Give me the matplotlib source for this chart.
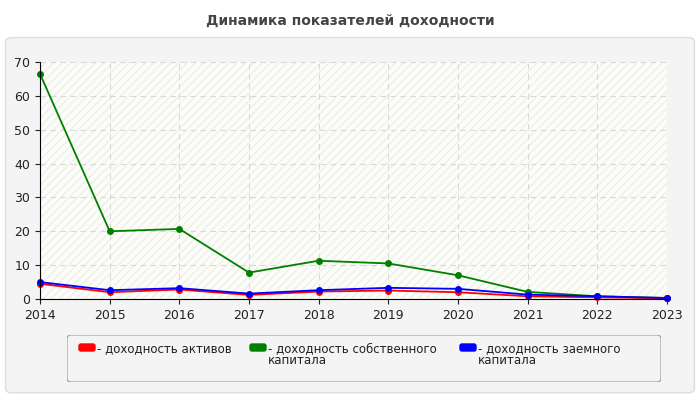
import matplotlib
matplotlib.use("Agg")
import matplotlib.pyplot as plt
from matplotlib.patches import FancyBboxPatch

years = [2014, 2015, 2016, 2017, 2018, 2019, 2020, 2021, 2022, 2023]
roa = [4.5, 2.0, 2.8, 1.2, 2.2, 2.5, 2.0, 0.8, 0.5, 0.2]
roe = [66.5, 20.0, 20.7, 7.8, 11.3, 10.5, 7.0, 2.1, 0.8, 0.3]
rod = [5.0, 2.6, 3.2, 1.6, 2.6, 3.3, 3.0, 1.3, 0.8, 0.3]
labels = ["- доходность активов", "- доходность собственного\nкапитала", "- доходность заемного\nкапитала"]
colors = ["#ff0000", "#008000", "#0000ff"]

fig = plt.figure(figsize=(7, 4), dpi=100)
fig.patch.set_facecolor("white")
bg = FancyBboxPatch((0.008, 0.018), 0.984, 0.888, boxstyle="round,pad=0,rounding_size=0.01",
                    transform=fig.transFigure, facecolor="#f4f4f4", edgecolor="#dddddd", lw=1, zorder=-10)
fig.patches.append(bg)
fig.text(0.5, 0.948, "Динамика показателей доходности", ha="center", va="center",
         fontsize=10, fontweight="bold", color="#444444")

ax = fig.add_axes([40/700, 1-299/400, 627/700, 237/400])
ax.set_facecolor("#fdfdf8")
ax.fill_between([2014, 2023], 0, 70, facecolor="none", edgecolor="#eeeeee", hatch="////", lw=0)
for vals, c in zip([roe, roa, rod], [colors[1], colors[0], colors[2]]):
    ax.plot(years, vals, color=c, lw=1.3, marker="o", ms=4, clip_on=False)
ax.set_xlim(2014, 2023)
ax.set_ylim(0, 70)
ax.set_xticks(years)
ax.set_yticks(range(0, 71, 10))
ax.grid(True, ls=(0, (5, 4)), color="#d8d8d8", lw=0.8)
for s in ["top", "right"]:
    ax.spines[s].set_visible(False)
ax.tick_params(labelsize=9, colors="#222222")

leg_ax = fig.add_axes([67/700, 1-382/400, 594/700, 47/400])
leg_ax.set_xlim(0, 594); leg_ax.set_ylim(47, 0)
leg_ax.axis("off")
leg_ax.add_patch(FancyBboxPatch((0, 0), 594, 47, boxstyle="round,pad=0,rounding_size=4",
                                facecolor="#f4f4f4", edgecolor="#999999", lw=0.8))
xs = [12, 183, 393]
for x, lab, c in zip(xs, labels, colors):
    leg_ax.add_patch(FancyBboxPatch((x, 9), 16, 7, boxstyle="round,pad=0,rounding_size=2",
                                    facecolor=c, edgecolor=c))
    leg_ax.text(x + 18, 7, lab, fontsize=8.5, va="top", ha="left", color="#222222", linespacing=0.95)

fig.savefig("out.png", dpi=100)
